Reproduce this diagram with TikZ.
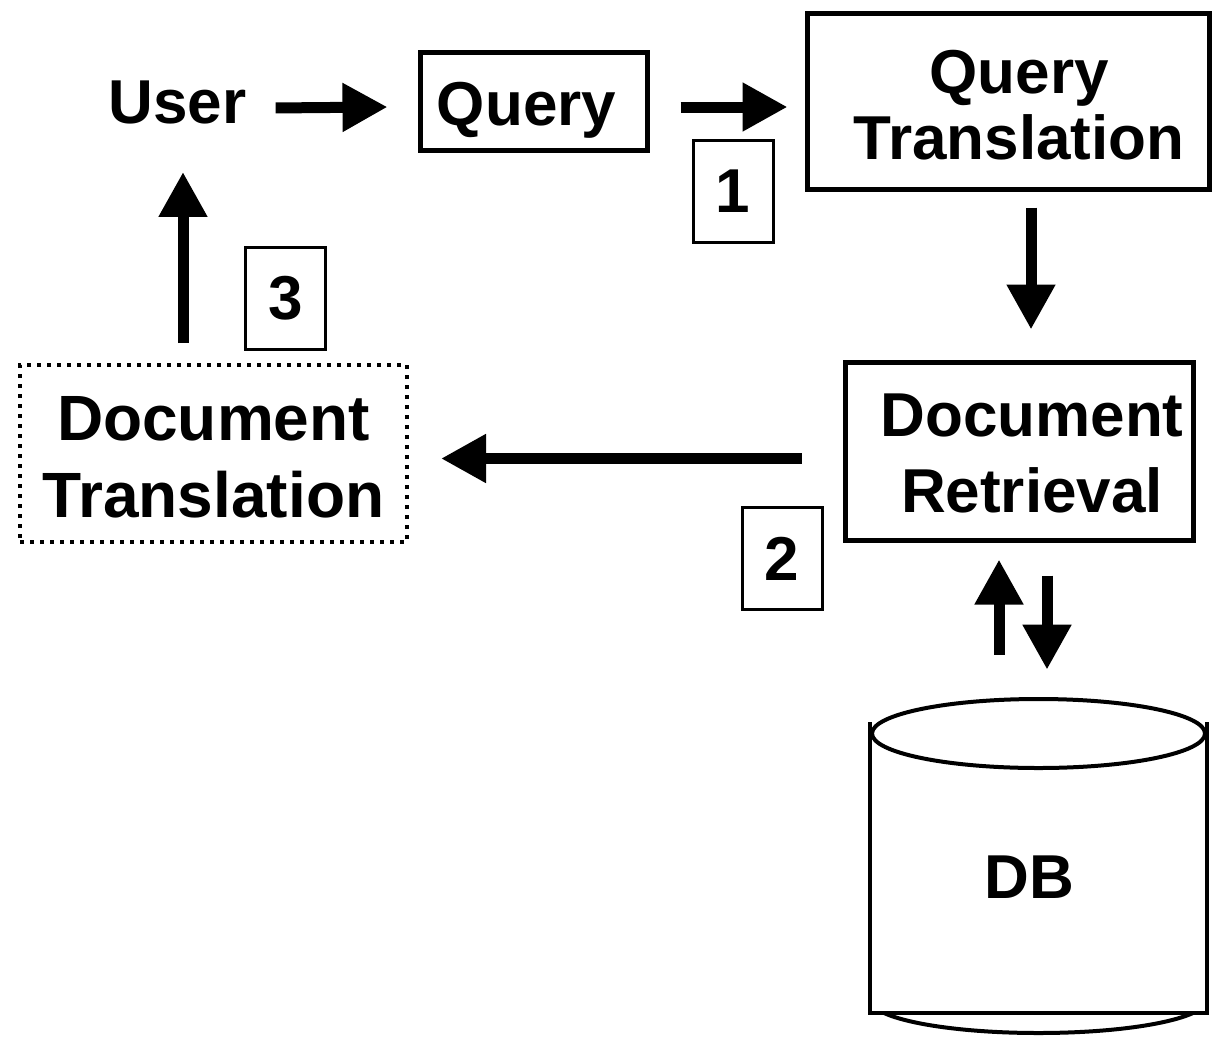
\documentclass[tikz,border=0pt]{standalone}
\usepackage{fontspec}
\setmainfont{Liberation Sans}
\usetikzlibrary{arrows.meta}
\begin{document}
\begin{tikzpicture}[x=1pt,y=-1pt,
  every node/.style={font=\fontsize{62}{76}\selectfont\bfseries, inner sep=0pt},
  txt/.style={align=center},
  boxthick/.style={draw, line width=5pt},
  boxdot/.style={draw, line width=4pt, dash pattern=on 4pt off 6pt},
  numbox/.style={draw, line width=3pt, minimum width=80pt, minimum height=102pt},
  bigarrow/.style={line width=11pt, -{Triangle[length=45pt,width=46pt]}}
]
\useasboundingbox (0,0) rectangle (1212,1036);
% boxes
\node[boxthick, minimum width=227pt, minimum height=98pt] (query) at (533.5,101) {};
\node[boxthick, minimum width=402pt, minimum height=176pt] (qt) at (1008,101) {};
\node[boxthick, minimum width=348pt, minimum height=178pt] (dr) at (1019,451) {};
\node[boxdot, minimum width=387pt, minimum height=177pt] (dt) at (213.5,453.5) {};
% texts
\node[anchor=base] (user) at (177.5,123) {User};
\node[anchor=base] (querytext) at (526.5,125) {Query};
\node[txt, font=\fontsize{62}{66}\selectfont\bfseries] (qttext) at (1019,105) {Query\\Translation};
\node[txt] (drtext) at (1032,453) {Document\\Retrieval};
\node[txt, font=\fontsize{64}{77}\selectfont\bfseries] (dttext) at (213.5,457.5) {Document\\Translation};
% number boxes
\node[numbox] (n1) at (733,191) {1};
\node[numbox] (n2) at (782,558.5) {2};
\node[numbox] (n3) at (285.5,298.5) {3};
% database cylinder
\draw[line width=4pt] (870,722) -- (870,1013) -- (1207,1013) -- (1207,722);
\begin{scope}
  \clip (860,1013) rectangle (1220,1040);
  \draw[line width=4pt] (1038.5,1000) ellipse [x radius=168, y radius=33];
\end{scope}
\draw[line width=4pt, fill=white] (1038.5,733.5) ellipse [x radius=166.5, y radius=34.5];
\node[anchor=base] (db) at (1029.5,898) {DB};
% connectors
\draw[bigarrow] ([shift={(29,6)}]user.east) -- ([shift={(-30,6)}]query.west);
\draw[bigarrow] ([shift={(31,6)}]query.east) -- ([shift={(-17,6)}]qt.west);
\draw[bigarrow] ([shift={(23,16)}]qt.south) -- ([shift={(12,-30)}]dr.north);
\draw[bigarrow] ([shift={(-41,7.5)}]dr.west) -- ([shift={(32,5)}]dt.east);
\draw[bigarrow] ([shift={(-30.5,-20)}]dt.north) -- ([shift={(5.5,70)}]user.center);
\draw[bigarrow] ([shift={(-30.5,-222)}]db.center) -- ([shift={(-20,17)}]dr.south);
\draw[bigarrow] ([shift={(28,33)}]dr.south) -- ([shift={(17.5,-207)}]db.center);
\end{tikzpicture}
\end{document}
